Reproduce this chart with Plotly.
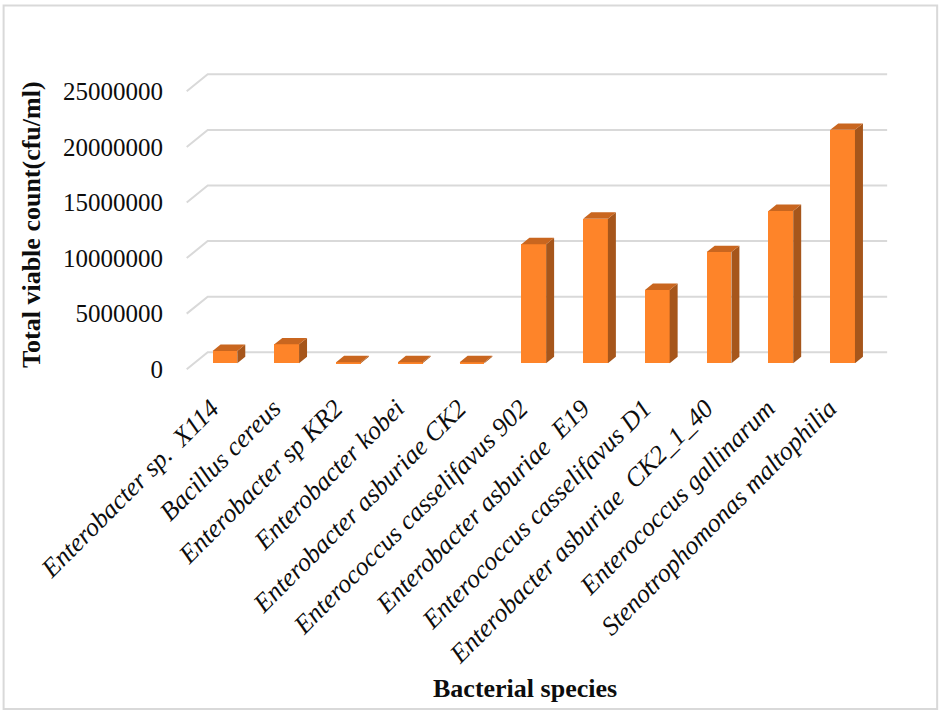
import plotly.graph_objects as go

# ---- data -------------------------------------------------------------
species = [
    "Enterobacter sp.  X114",
    "Bacillus cereus",
    "Enterobacter sp KR2",
    "Enterobacter kobei",
    "Enterobacter asburiae CK2",
    "Enterococcus casselifavus 902",
    "Enterobacter asburiae  E19",
    "Enterococcus casselifavus D1",
    "Enterobacter asburiae  CK2_1_40",
    "Enterococcus gallinarum",
    "Stenotrophomonas maltophilia",
]
viable_count = [1100000, 1700000, 100000, 100000, 100000,
                10700000, 13000000, 6600000, 10000000, 13700000, 21000000]
y_ticks = [0, 5000000, 10000000, 15000000, 20000000, 25000000]

# ---- geometry of the oblique (pseudo-3D) view -------------------------
W, H = 942, 711
N = len(species)
PX_PER_CAT = 61.73           # pixels per category
PX_PER_VAL = 55.6 / 5e6      # pixels per unit of count
DEPTH_X = 0.34               # floor depth, in category units
DEPTH_Y = 1.53e6             # floor depth, in count units
BAR_W = 0.4
FRONT = 0.35                 # depth of bar front face (fraction of floor)
THICK = 0.38                 # bar thickness (fraction of floor)

x_lo, x_hi = -0.56, N - 0.5 + DEPTH_X + 0.03
y_lo, y_hi = -0.25e6, max(y_ticks) + DEPTH_Y + 0.3e6
AX_LEFT_PX, AX_BOTTOM_PX = 187, 369
plot_w = (x_hi - x_lo) * PX_PER_CAT
plot_h = (y_hi - y_lo) * PX_PER_VAL
m_l = AX_LEFT_PX - (-0.5 - x_lo) * PX_PER_CAT
m_b = H - (AX_BOTTOM_PX + (0 - y_lo) * PX_PER_VAL)
m_t = H - m_b - plot_h
m_r = W - m_l - plot_w


def paper_x(px):
    return (px - m_l) / plot_w


def paper_y(py):
    return (H - m_b - py) / plot_h


FRONT_C = "#FE8429"
TOP_C = "#C9661F"
SIDE_C = "#A6561B"
GRID_C = "#D9D9D9"
FONT = "Liberation Serif, Times New Roman, serif"
TXT_C = "#0D0D0D"

base = FRONT * DEPTH_Y
dx, dy = THICK * DEPTH_X, THICK * DEPTH_Y
xc = [i + FRONT * DEPTH_X for i in range(N)]

fig = go.Figure()

# front faces
fig.add_trace(go.Bar(
    x=xc, y=viable_count, base=[base] * N, width=BAR_W,
    marker=dict(color=FRONT_C, line=dict(width=0)),
    hoverinfo="skip", showlegend=False,
))

# side and top faces
side_x, side_y, top_x, top_y = [], [], [], []
for c, v in zip(xc, viable_count):
    xr, xl = c + BAR_W / 2, c - BAR_W / 2
    side_x += [xr, xr + dx, xr + dx, xr, xr, None]
    side_y += [base, base + dy, base + v + dy, base + v, base, None]
    top_x += [xl, xr, xr + dx, xl + dx, xl, None]
    top_y += [base + v, base + v, base + v + dy, base + v + dy, base + v, None]

fig.add_trace(go.Scatter(x=side_x, y=side_y, mode="lines", fill="toself",
                         fillcolor=SIDE_C, line=dict(width=0, color=SIDE_C),
                         hoverinfo="skip", showlegend=False))
fig.add_trace(go.Scatter(x=top_x, y=top_y, mode="lines", fill="toself",
                         fillcolor=TOP_C, line=dict(width=0, color=TOP_C),
                         hoverinfo="skip", showlegend=False))

# back-wall gridlines with their floor diagonals
shapes = []
for v in y_ticks:
    shapes.append(dict(type="path", xref="x", yref="y", layer="below",
                       path=f"M {-0.5},{v} L {-0.5 + DEPTH_X},{v + DEPTH_Y} "
                            f"L {N - 0.5 + DEPTH_X},{v + DEPTH_Y}",
                       line=dict(color=GRID_C, width=2)))
# outer chart frame
shapes.append(dict(type="rect", xref="paper", yref="paper",
                   x0=paper_x(4), x1=paper_x(937), y0=paper_y(709), y1=paper_y(5),
                   line=dict(color=GRID_C, width=2), layer="below"))

fig.update_layout(
    width=W, height=H,
    margin=dict(l=m_l, r=m_r, t=m_t, b=m_b, pad=0),
    paper_bgcolor="white", plot_bgcolor="white",
    shapes=shapes,
    bargap=0,
    xaxis=dict(range=[x_lo, x_hi], showgrid=False, zeroline=False,
               showline=False, ticks="",
               tickmode="array", tickvals=[c - 0.22 for c in xc], ticktext=species,
               tickangle=-45, ticklabelstandoff=15,
               tickfont=dict(family=FONT, size=26, color=TXT_C, style="italic")),
    yaxis=dict(range=[y_lo, y_hi], showgrid=False, zeroline=False,
               showline=False, ticks="",
               tickmode="array", tickvals=y_ticks,
               ticktext=[str(v) for v in y_ticks],
               ticklabelstandoff=19,
               tickfont=dict(family=FONT, size=25, color=TXT_C)),
    annotations=[
        dict(text="<b>Total viable count(cfu/ml)</b>", textangle=-90,
             xref="paper", yref="paper", x=paper_x(32), y=paper_y(225),
             xanchor="center", yanchor="middle", showarrow=False,
             font=dict(family=FONT, size=26, color=TXT_C)),
        dict(text="<b>Bacterial species</b>",
             xref="paper", yref="paper", x=paper_x(525), y=paper_y(688),
             xanchor="center", yanchor="middle", showarrow=False,
             font=dict(family=FONT, size=26, color=TXT_C)),
    ],
)

fig.write_html("out.html")
